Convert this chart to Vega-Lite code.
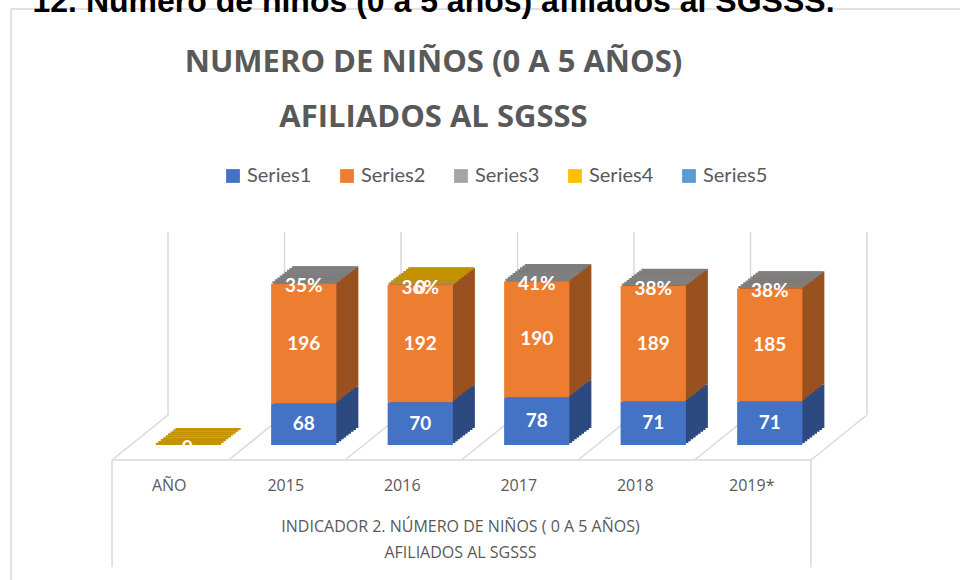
{
  "$schema": "https://vega.github.io/schema/vega-lite/v6.json",
  "width": 699,
  "height": 214,
  "autosize": {"type": "none"},
  "padding": {"left": 129, "top": 231, "right": 132, "bottom": 135},
  "background": "white",
  "config": {
    "view": {"stroke": null},
    "axisY": {"disable": true},
    "axis": {"grid": false}
  },
  "title": {
    "text": "12. Número de niños (0 a 5 años) afiliados al SGSSS.",
    "subtitle": ["NUMERO DE NIÑOS (0 A 5 AÑOS)", "AFILIADOS AL SGSSS"],
    "anchor": "middle",
    "dx": -45,
    "offset": -126,
    "font": "Liberation Sans",
    "fontSize": 32,
    "fontWeight": "bold",
    "color": "#000000",
    "subtitleFont": "Open Sans",
    "subtitleFontSize": 31,
    "subtitleFontWeight": "bold",
    "subtitleColor": "#595959",
    "subtitleLineHeight": 55,
    "subtitlePadding": 29
  },
  "data": {
    "values": [
      {"cat": "AÑO", "serie": "Series4", "valor": 0, "etiqueta": "0"},
      {"cat": "2015", "serie": "Series1", "valor": 68, "etiqueta": "68"},
      {"cat": "2015", "serie": "Series2", "valor": 196, "etiqueta": "196"},
      {"cat": "2015", "serie": "Series3", "valor": 0.35, "etiqueta": "35%"},
      {"cat": "2016", "serie": "Series1", "valor": 70, "etiqueta": "70"},
      {"cat": "2016", "serie": "Series2", "valor": 192, "etiqueta": "192"},
      {"cat": "2016", "serie": "Series3", "valor": 0.36, "etiqueta": "36%"},
      {"cat": "2016", "serie": "Series4", "valor": 0, "etiqueta": "0"},
      {"cat": "2017", "serie": "Series1", "valor": 78, "etiqueta": "78"},
      {"cat": "2017", "serie": "Series2", "valor": 190, "etiqueta": "190"},
      {"cat": "2017", "serie": "Series3", "valor": 0.41, "etiqueta": "41%"},
      {"cat": "2018", "serie": "Series1", "valor": 71, "etiqueta": "71"},
      {"cat": "2018", "serie": "Series2", "valor": 189, "etiqueta": "189"},
      {"cat": "2018", "serie": "Series3", "valor": 0.38, "etiqueta": "38%"},
      {"cat": "2019*", "serie": "Series1", "valor": 71, "etiqueta": "71"},
      {"cat": "2019*", "serie": "Series2", "valor": 185, "etiqueta": "185"},
      {"cat": "2019*", "serie": "Series3", "valor": 0.38, "etiqueta": "38%"}
    ]
  },
  "encoding": {
    "x": {
      "field": "cat",
      "type": "nominal",
      "sort": null,
      "scale": {"domain": ["AÑO", "2015", "2016", "2017", "2018", "2019*"], "paddingInner": 0.44, "paddingOuter": 0.22},
      "axis": {
        "orient": "bottom",
        "offset": 15,
        "domain": false,
        "ticks": false,
        "labelAngle": 0,
        "labelOffset": -18,
        "labelPadding": 17,
        "labelFont": "Open Sans",
        "labelFontSize": 16,
        "labelColor": "#595959",
        "title": ["INDICADOR 2. NÚMERO DE NIÑOS ( 0 A 5 AÑOS)", "AFILIADOS AL SGSSS"],
        "titleFont": "Open Sans",
        "titleFontSize": 16,
        "titleFontWeight": "normal",
        "titleColor": "#595959",
        "titleLineHeight": 26,
        "titlePadding": 25,
        "titleX": 331
      }
    }
  },
  "layer": [
    {
      "transform": [{"filter": "datum.cat === 'AÑO'"}],
      "mark": {"type": "rule", "color": "#D9D9D9", "strokeWidth": 1.5, "xOffset": -143.6, "yOffset": -222, "y2Offset": 140},
      "encoding": {
        "x": {"field": "cat", "type": "nominal", "bandPosition": 0},
        "y": {"datum": 350, "type": "quantitative", "scale": {"domain": [0, 350], "nice": false}},
        "y2": {"datum": 0}
      }
    },
    {
      "transform": [{"filter": "datum.cat === 'AÑO'"}],
      "mark": {"type": "rule", "color": "#D9D9D9", "strokeWidth": 1.5, "xOffset": -143.6, "x2Offset": 750, "yOffset": -222},
      "encoding": {
        "x": {"field": "cat", "type": "nominal", "bandPosition": 0},
        "x2": {"field": "cat", "bandPosition": 1},
        "y": {"datum": 350, "type": "quantitative", "scale": {"domain": [0, 350], "nice": false}}
      }
    },
    {
      "transform": [{"filter": "datum.serie === 'Series1' || datum.cat === 'AÑO'"}],
      "mark": {"type": "rule", "color": "#D9D9D9", "strokeWidth": 1.5, "xOffset": 13.4, "yOffset": 1, "y2Offset": -30},
      "encoding": {
        "x": {"field": "cat", "type": "nominal", "bandPosition": 0},
        "y": {"datum": 350, "type": "quantitative", "scale": {"domain": [0, 350], "nice": false}},
        "y2": {"datum": 0}
      }
    },
    {
      "transform": [{"filter": "datum.serie === 'Series1' && datum.cat === '2019*'"}],
      "mark": {"type": "rule", "color": "#D9D9D9", "strokeWidth": 1.5, "xOffset": 64.6, "yOffset": 1, "y2Offset": -30},
      "encoding": {
        "x": {"field": "cat", "type": "nominal", "bandPosition": 1},
        "y": {"datum": 350, "type": "quantitative", "scale": {"domain": [0, 350], "nice": false}},
        "y2": {"datum": 0}
      }
    },
    {
      "transform": [{"filter": "datum.serie === 'Series1' || datum.cat === 'AÑO'"}],
      "mark": {"type": "rule", "color": "#D9D9D9", "strokeWidth": 1.5, "xOffset": -42.6, "x2Offset": 13.4, "yOffset": 15, "y2Offset": -30},
      "encoding": {
        "x": {"field": "cat", "type": "nominal", "bandPosition": 0},
        "x2": {"field": "cat", "bandPosition": 0},
        "y": {"datum": 0, "type": "quantitative", "scale": {"domain": [0, 350], "nice": false}},
        "y2": {"datum": 0}
      }
    },
    {
      "transform": [{"filter": "datum.serie === 'Series1' && datum.cat === '2019*'"}],
      "mark": {"type": "rule", "color": "#D9D9D9", "strokeWidth": 1.5, "xOffset": 8.6, "x2Offset": 64.6, "yOffset": 15, "y2Offset": -30},
      "encoding": {
        "x": {"field": "cat", "type": "nominal", "bandPosition": 1},
        "x2": {"field": "cat", "bandPosition": 1},
        "y": {"datum": 0, "type": "quantitative", "scale": {"domain": [0, 350], "nice": false}},
        "y2": {"datum": 0}
      }
    },
    {
      "transform": [{"filter": "datum.serie === 'Series1' || datum.cat === 'AÑO'"}],
      "mark": {"type": "rule", "color": "#D9D9D9", "strokeWidth": 1.5, "xOffset": -42.6, "x2Offset": 8.6, "yOffset": 15},
      "encoding": {
        "x": {"field": "cat", "type": "nominal", "bandPosition": 0},
        "x2": {"field": "cat", "bandPosition": 1},
        "y": {"datum": 0, "type": "quantitative", "scale": {"domain": [0, 350], "nice": false}}
      }
    },
    {
      "transform": [{"filter": "datum.cat === 'AÑO'"}],
      "mark": {"type": "rule", "color": "#D9D9D9", "strokeWidth": 1.5, "xOffset": -42.6, "yOffset": 15, "y2Offset": 122},
      "encoding": {
        "x": {"field": "cat", "type": "nominal", "bandPosition": 0},
        "y": {"datum": 0, "type": "quantitative", "scale": {"domain": [0, 350], "nice": false}},
        "y2": {"datum": 0}
      }
    },
    {
      "transform": [{"filter": "datum.serie === 'Series1' && datum.cat === '2019*'"}],
      "mark": {"type": "rule", "color": "#D9D9D9", "strokeWidth": 1.5, "xOffset": 8.6, "yOffset": 15, "y2Offset": 122},
      "encoding": {
        "x": {"field": "cat", "type": "nominal", "bandPosition": 1},
        "y": {"datum": 0, "type": "quantitative", "scale": {"domain": [0, 350], "nice": false}},
        "y2": {"datum": 0}
      }
    },
    {"transform": [{"filter": "datum.serie === 'Series1' || datum.serie === 'Series2'"}], "mark": {"type": "bar", "xOffset": 22, "yOffset": -17, "y2Offset": -17}, "encoding": {"y": {"field": "valor", "type": "quantitative", "stack": "zero", "scale": {"domain": [0, 350], "nice": false}}, "detail": {"field": "serie"}, "order": {"field": "serie"}, "color": {"condition": {"test": "datum.serie === 'Series1'", "value": "#2C4A7F"}, "value": "#9A5120"}}},
    {"transform": [{"filter": "datum.serie === 'Series1' || datum.serie === 'Series2'"}], "mark": {"type": "bar", "xOffset": 19.56, "yOffset": -15.11, "y2Offset": -15.11}, "encoding": {"y": {"field": "valor", "type": "quantitative", "stack": "zero", "scale": {"domain": [0, 350], "nice": false}}, "detail": {"field": "serie"}, "order": {"field": "serie"}, "color": {"condition": {"test": "datum.serie === 'Series1'", "value": "#2C4A7F"}, "value": "#9A5120"}}},
    {"transform": [{"filter": "datum.serie === 'Series1' || datum.serie === 'Series2'"}], "mark": {"type": "bar", "xOffset": 17.11, "yOffset": -13.22, "y2Offset": -13.22}, "encoding": {"y": {"field": "valor", "type": "quantitative", "stack": "zero", "scale": {"domain": [0, 350], "nice": false}}, "detail": {"field": "serie"}, "order": {"field": "serie"}, "color": {"condition": {"test": "datum.serie === 'Series1'", "value": "#2C4A7F"}, "value": "#9A5120"}}},
    {"transform": [{"filter": "datum.serie === 'Series1' || datum.serie === 'Series2'"}], "mark": {"type": "bar", "xOffset": 14.67, "yOffset": -11.33, "y2Offset": -11.33}, "encoding": {"y": {"field": "valor", "type": "quantitative", "stack": "zero", "scale": {"domain": [0, 350], "nice": false}}, "detail": {"field": "serie"}, "order": {"field": "serie"}, "color": {"condition": {"test": "datum.serie === 'Series1'", "value": "#2C4A7F"}, "value": "#9A5120"}}},
    {"transform": [{"filter": "datum.serie === 'Series1' || datum.serie === 'Series2'"}], "mark": {"type": "bar", "xOffset": 12.22, "yOffset": -9.44, "y2Offset": -9.44}, "encoding": {"y": {"field": "valor", "type": "quantitative", "stack": "zero", "scale": {"domain": [0, 350], "nice": false}}, "detail": {"field": "serie"}, "order": {"field": "serie"}, "color": {"condition": {"test": "datum.serie === 'Series1'", "value": "#2C4A7F"}, "value": "#9A5120"}}},
    {"transform": [{"filter": "datum.serie === 'Series1' || datum.serie === 'Series2'"}], "mark": {"type": "bar", "xOffset": 9.78, "yOffset": -7.56, "y2Offset": -7.56}, "encoding": {"y": {"field": "valor", "type": "quantitative", "stack": "zero", "scale": {"domain": [0, 350], "nice": false}}, "detail": {"field": "serie"}, "order": {"field": "serie"}, "color": {"condition": {"test": "datum.serie === 'Series1'", "value": "#2C4A7F"}, "value": "#9A5120"}}},
    {"transform": [{"filter": "datum.serie === 'Series1' || datum.serie === 'Series2'"}], "mark": {"type": "bar", "xOffset": 7.33, "yOffset": -5.67, "y2Offset": -5.67}, "encoding": {"y": {"field": "valor", "type": "quantitative", "stack": "zero", "scale": {"domain": [0, 350], "nice": false}}, "detail": {"field": "serie"}, "order": {"field": "serie"}, "color": {"condition": {"test": "datum.serie === 'Series1'", "value": "#2C4A7F"}, "value": "#9A5120"}}},
    {"transform": [{"filter": "datum.serie === 'Series1' || datum.serie === 'Series2'"}], "mark": {"type": "bar", "xOffset": 4.89, "yOffset": -3.78, "y2Offset": -3.78}, "encoding": {"y": {"field": "valor", "type": "quantitative", "stack": "zero", "scale": {"domain": [0, 350], "nice": false}}, "detail": {"field": "serie"}, "order": {"field": "serie"}, "color": {"condition": {"test": "datum.serie === 'Series1'", "value": "#2C4A7F"}, "value": "#9A5120"}}},
    {"transform": [{"filter": "datum.serie === 'Series1' || datum.serie === 'Series2'"}], "mark": {"type": "bar", "xOffset": 2.44, "yOffset": -1.89, "y2Offset": -1.89}, "encoding": {"y": {"field": "valor", "type": "quantitative", "stack": "zero", "scale": {"domain": [0, 350], "nice": false}}, "detail": {"field": "serie"}, "order": {"field": "serie"}, "color": {"condition": {"test": "datum.serie === 'Series1'", "value": "#2C4A7F"}, "value": "#9A5120"}}},
    {"transform": [{"joinaggregate": [{"op": "sum", "field": "valor", "as": "total"}], "groupby": ["cat"]}, {"filter": "datum.serie === 'Series3' || datum.serie === 'Series4'"}], "mark": {"type": "bar", "xOffset": 1.22, "yOffset": -2.19, "y2Offset": 0}, "encoding": {"y": {"field": "total", "type": "quantitative", "scale": {"domain": [0, 350], "nice": false}}, "y2": {"field": "total"}, "color": {"condition": {"test": "datum.serie === 'Series4'", "value": "#C49400"}, "value": "#7F7F7F"}}},
    {"transform": [{"joinaggregate": [{"op": "sum", "field": "valor", "as": "total"}], "groupby": ["cat"]}, {"filter": "datum.serie === 'Series3' || datum.serie === 'Series4'"}], "mark": {"type": "bar", "xOffset": 3.67, "yOffset": -4.08, "y2Offset": -1.89}, "encoding": {"y": {"field": "total", "type": "quantitative", "scale": {"domain": [0, 350], "nice": false}}, "y2": {"field": "total"}, "color": {"condition": {"test": "datum.serie === 'Series4'", "value": "#C49400"}, "value": "#7F7F7F"}}},
    {"transform": [{"joinaggregate": [{"op": "sum", "field": "valor", "as": "total"}], "groupby": ["cat"]}, {"filter": "datum.serie === 'Series3' || datum.serie === 'Series4'"}], "mark": {"type": "bar", "xOffset": 6.11, "yOffset": -5.97, "y2Offset": -3.78}, "encoding": {"y": {"field": "total", "type": "quantitative", "scale": {"domain": [0, 350], "nice": false}}, "y2": {"field": "total"}, "color": {"condition": {"test": "datum.serie === 'Series4'", "value": "#C49400"}, "value": "#7F7F7F"}}},
    {"transform": [{"joinaggregate": [{"op": "sum", "field": "valor", "as": "total"}], "groupby": ["cat"]}, {"filter": "datum.serie === 'Series3' || datum.serie === 'Series4'"}], "mark": {"type": "bar", "xOffset": 8.56, "yOffset": -7.86, "y2Offset": -5.67}, "encoding": {"y": {"field": "total", "type": "quantitative", "scale": {"domain": [0, 350], "nice": false}}, "y2": {"field": "total"}, "color": {"condition": {"test": "datum.serie === 'Series4'", "value": "#C49400"}, "value": "#7F7F7F"}}},
    {"transform": [{"joinaggregate": [{"op": "sum", "field": "valor", "as": "total"}], "groupby": ["cat"]}, {"filter": "datum.serie === 'Series3' || datum.serie === 'Series4'"}], "mark": {"type": "bar", "xOffset": 11.0, "yOffset": -9.74, "y2Offset": -7.56}, "encoding": {"y": {"field": "total", "type": "quantitative", "scale": {"domain": [0, 350], "nice": false}}, "y2": {"field": "total"}, "color": {"condition": {"test": "datum.serie === 'Series4'", "value": "#C49400"}, "value": "#7F7F7F"}}},
    {"transform": [{"joinaggregate": [{"op": "sum", "field": "valor", "as": "total"}], "groupby": ["cat"]}, {"filter": "datum.serie === 'Series3' || datum.serie === 'Series4'"}], "mark": {"type": "bar", "xOffset": 13.44, "yOffset": -11.63, "y2Offset": -9.44}, "encoding": {"y": {"field": "total", "type": "quantitative", "scale": {"domain": [0, 350], "nice": false}}, "y2": {"field": "total"}, "color": {"condition": {"test": "datum.serie === 'Series4'", "value": "#C49400"}, "value": "#7F7F7F"}}},
    {"transform": [{"joinaggregate": [{"op": "sum", "field": "valor", "as": "total"}], "groupby": ["cat"]}, {"filter": "datum.serie === 'Series3' || datum.serie === 'Series4'"}], "mark": {"type": "bar", "xOffset": 15.89, "yOffset": -13.52, "y2Offset": -11.33}, "encoding": {"y": {"field": "total", "type": "quantitative", "scale": {"domain": [0, 350], "nice": false}}, "y2": {"field": "total"}, "color": {"condition": {"test": "datum.serie === 'Series4'", "value": "#C49400"}, "value": "#7F7F7F"}}},
    {"transform": [{"joinaggregate": [{"op": "sum", "field": "valor", "as": "total"}], "groupby": ["cat"]}, {"filter": "datum.serie === 'Series3' || datum.serie === 'Series4'"}], "mark": {"type": "bar", "xOffset": 18.33, "yOffset": -15.41, "y2Offset": -13.22}, "encoding": {"y": {"field": "total", "type": "quantitative", "scale": {"domain": [0, 350], "nice": false}}, "y2": {"field": "total"}, "color": {"condition": {"test": "datum.serie === 'Series4'", "value": "#C49400"}, "value": "#7F7F7F"}}},
    {"transform": [{"joinaggregate": [{"op": "sum", "field": "valor", "as": "total"}], "groupby": ["cat"]}, {"filter": "datum.serie === 'Series3' || datum.serie === 'Series4'"}], "mark": {"type": "bar", "xOffset": 20.78, "yOffset": -17, "y2Offset": -15.11}, "encoding": {"y": {"field": "total", "type": "quantitative", "scale": {"domain": [0, 350], "nice": false}}, "y2": {"field": "total"}, "color": {"condition": {"test": "datum.serie === 'Series4'", "value": "#C49400"}, "value": "#7F7F7F"}}},
    {
      "transform": [{"filter": "datum.serie === 'Series1' || datum.serie === 'Series2'"}],
      "mark": {"type": "bar"},
      "encoding": {
        "y": {"field": "valor", "type": "quantitative", "stack": "zero", "scale": {"domain": [0, 350], "nice": false}},
        "order": {"field": "serie"},
        "color": {
          "field": "serie",
          "type": "nominal",
          "scale": {
            "domain": ["Series1", "Series2", "Series3", "Series4", "Series5"],
            "range": ["#4472C4", "#ED7D31", "#A5A5A5", "#FFC000", "#5B9BD5"]
          },
          "legend": {
            "title": null,
            "orient": "none",
            "legendX": 94,
            "legendY": -65,
            "direction": "horizontal",
            "columns": 5,
            "symbolType": "square",
            "symbolSize": 190,
            "symbolStrokeWidth": 0,
            "labelFont": "Lato",
            "labelFontSize": 20,
            "labelColor": "#595959",
            "labelOffset": 4,
            "columnPadding": 25
          }
        }
      }
    },
    {
      "transform": [{"filter": "datum.serie === 'Series1' || datum.serie === 'Series2'"}],
      "mark": {"type": "text", "color": "white", "font": "Lato", "fontSize": 19, "fontWeight": "bold", "baseline": "middle"},
      "encoding": {
        "y": {"field": "valor", "type": "quantitative", "stack": "zero", "bandPosition": 0.5, "scale": {"domain": [0, 350], "nice": false}},
        "detail": {"field": "serie"},
        "order": {"field": "serie"},
        "text": {"field": "etiqueta"}
      }
    },
    {
      "transform": [
        {"joinaggregate": [{"op": "sum", "field": "valor", "as": "total"}], "groupby": ["cat"]},
        {"filter": "datum.serie === 'Series3' || datum.serie === 'Series4'"}
      ],
      "mark": {"type": "text", "color": "white", "font": "Lato", "fontSize": 19, "fontWeight": "bold", "baseline": "middle", "dy": 3},
      "encoding": {
        "y": {"field": "total", "type": "quantitative", "scale": {"domain": [0, 350], "nice": false}},
        "text": {"field": "etiqueta"}
      }
    }
  ]
}
